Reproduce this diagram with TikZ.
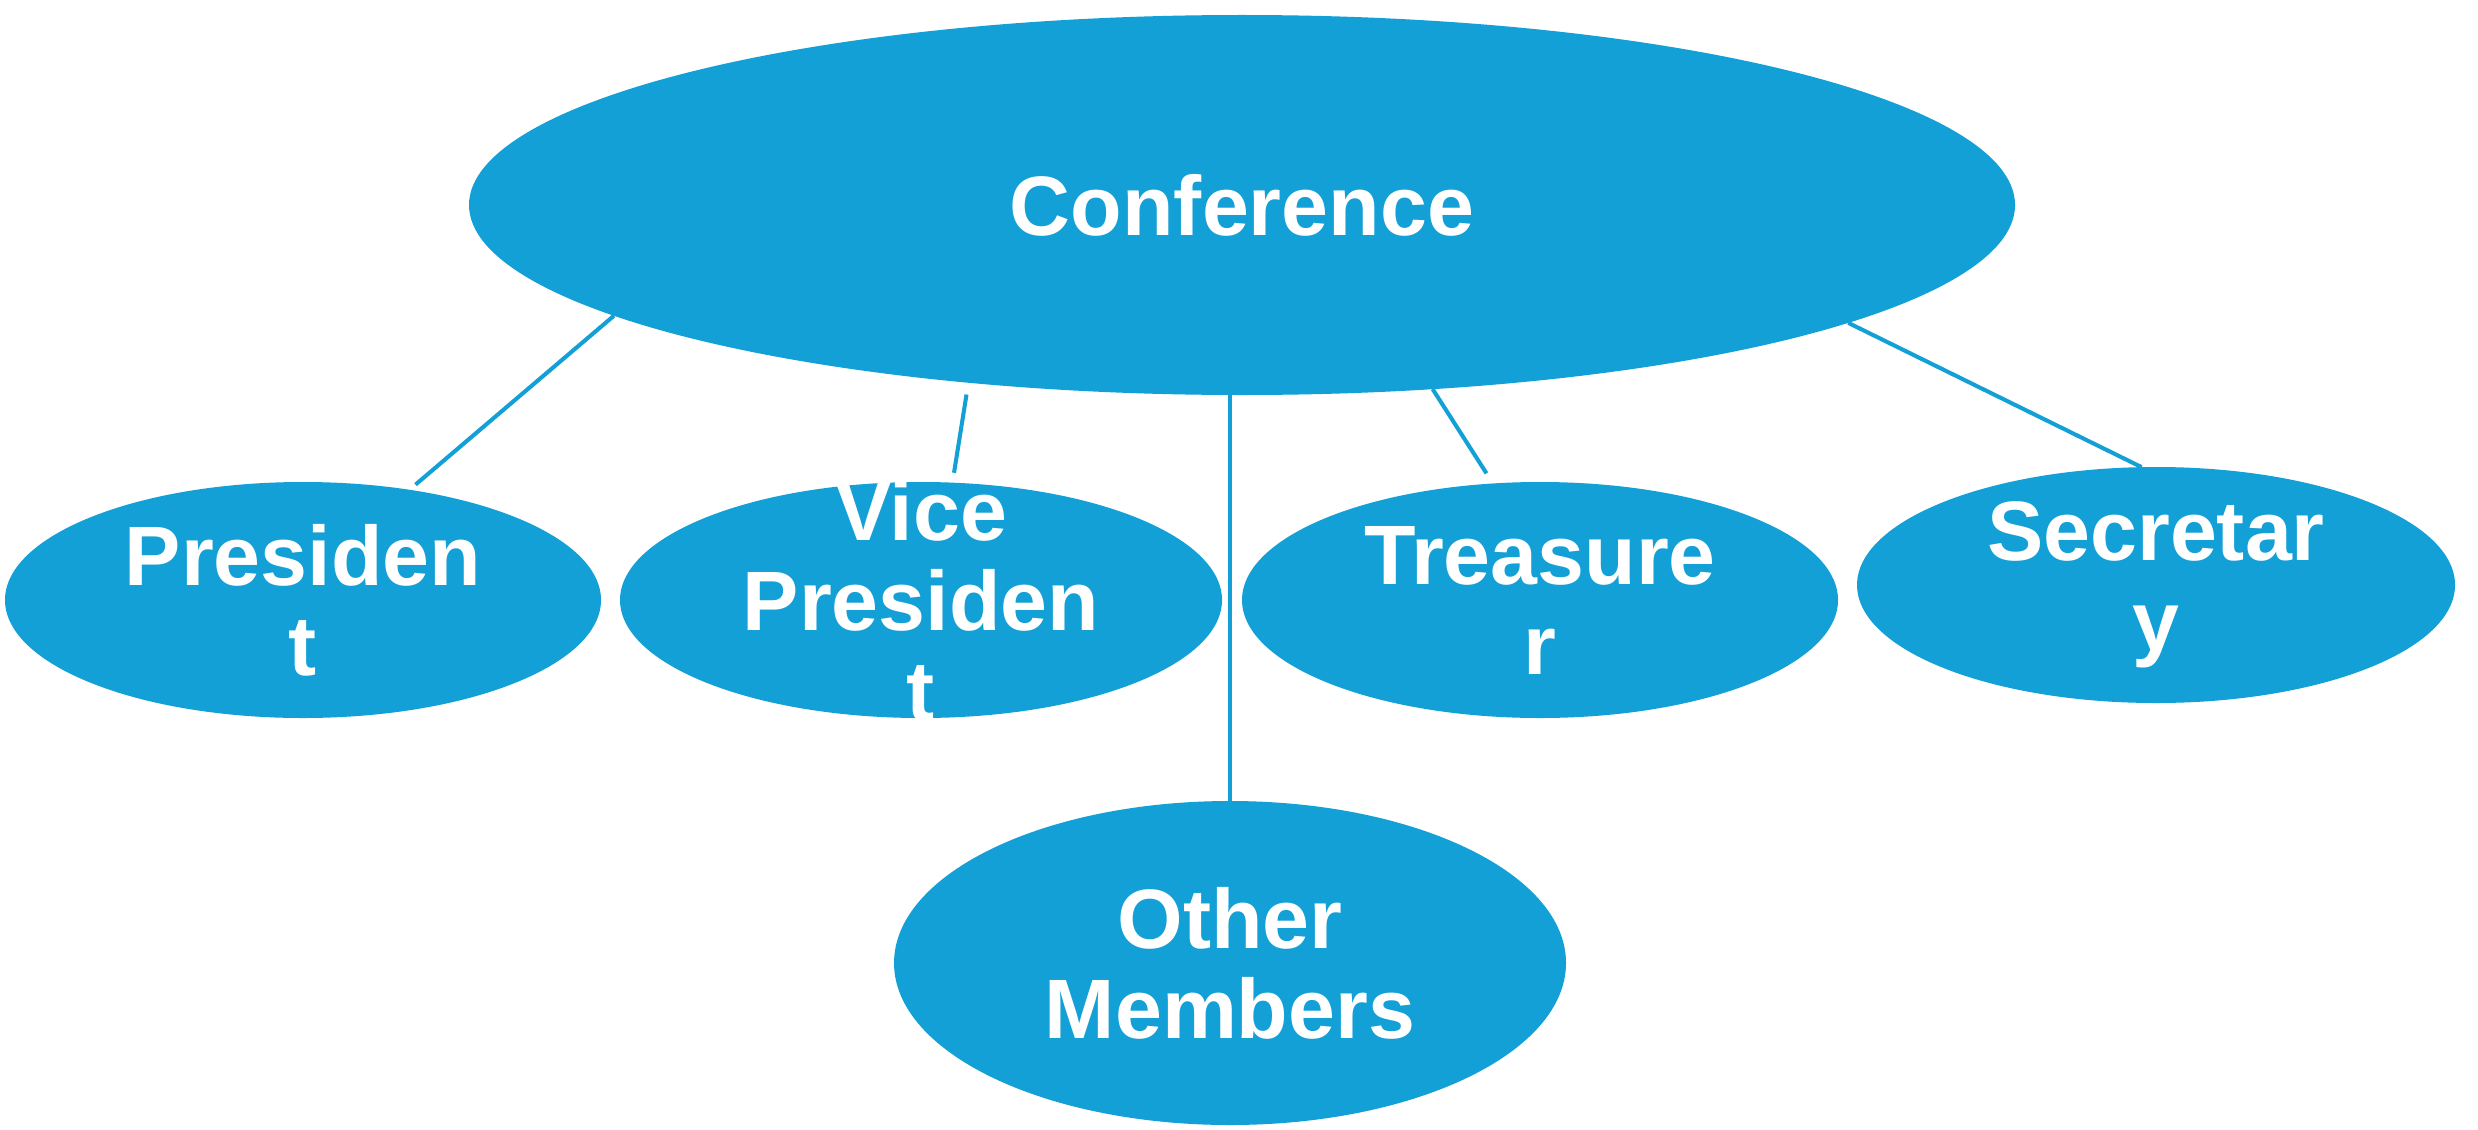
\documentclass[tikz,border=0pt]{standalone}
\usepackage{fontspec}
\setmainfont{Liberation Sans}
\usetikzlibrary{shapes.geometric}
\pgfdeclarelayer{bg}
\pgfsetlayers{bg,main}
\definecolor{orgblue}{RGB}{18,160,214}
\tikzset{
    post/.style={ellipse, fill=orgblue, draw=none, inner sep=0mm, outer sep=0mm},
    word/.style={align=center, text=white, inner sep=0mm,
        font=\bfseries\fontsize{24}{25.6}\selectfont},
    link/.style={draw=orgblue, line width=1.15pt}
}

\begin{document}
\begin{tikzpicture}
    \useasboundingbox (0,0) rectangle (24.78,-11.29);

    \node (conf) [post, minimum width=15.46cm, minimum height=3.80cm] at (12.42cm, -2.05cm) {};
    \node (pres) [post, minimum width=5.96cm, minimum height=2.36cm] at (3.03cm, -6.00cm) {};
    \node (vp) [post, minimum width=6.02cm, minimum height=2.36cm] at (9.21cm, -6.00cm) {};
    \node (treas) [post, minimum width=5.96cm, minimum height=2.36cm] at (15.40cm, -6.00cm) {};
    \node (sec) [post, minimum width=5.98cm, minimum height=2.36cm] at (21.56cm, -5.85cm) {};
    \node (other) [post, minimum width=6.72cm, minimum height=3.24cm] at (12.30cm, -9.63cm) {};

    \node (conf-t) [word] at (conf) {Conference};
    \node (pres-t) [word] at (pres) {Presiden\\t};
    \node (vp-t) [word] at (vp) {Vice\\Presiden\\t};
    \node (treas-t) [word] at (treas) {Treasure\\r};
    \node (sec-t) [word] at (sec) {Secretar\\y};
    \node (other-t) [word] at (other) {Other\\Members};

    \begin{pgfonlayer}{bg}
        \draw [link, shorten >=0.08cm] (conf.190.4) -- (pres.46.4);
        \draw [link, shorten <=0.12cm, shorten >=0.10cm] (conf.213.2) -- (vp.75.7);
        \draw [link] (conf.south -| other.north) -- (other.north);
        \draw [link, shorten >=0.12cm] (conf.316.2) -- (treas.112.4);
        \draw [link] (conf.349.4) -- (sec.97.7);
    \end{pgfonlayer}
\end{tikzpicture}
\end{document}
